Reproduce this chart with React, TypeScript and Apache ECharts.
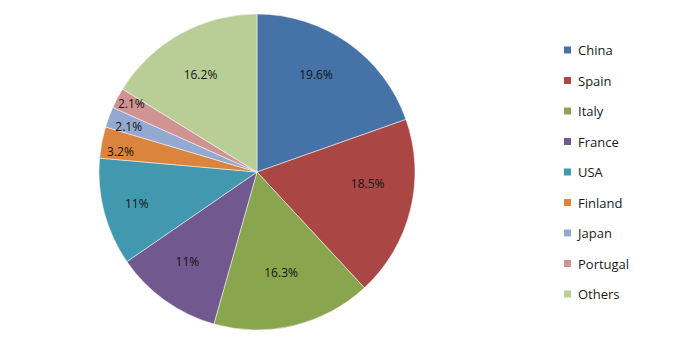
import React, { useEffect, useRef } from "react";
import * as echarts from "echarts";

const categories = ["China", "Spain", "Italy", "France", "USA", "Finland", "Japan", "Portugal", "Others"];
const values = [19.6, 18.5, 16.3, 11, 11, 3.2, 2.1, 2.1, 16.2];
const labels = ["19.6%", "18.5%", "16.3%", "11%", "11%", "3.2%", "2.1%", "2.1%", "16.2%"];
const smallSlices = ["Finland", "Japan", "Portugal"];
const colors = ["#4572A7", "#AA4643", "#89A54E", "#71588F", "#4198AF", "#DB843D", "#93A9CF", "#D19392", "#B9CD96"];

// small label nudges (px) to mimic the original label placement
const labelNudge: Record<string, [number, number]> = {
  China: [-8, -3],
  Spain: [-2, -16],
  Italy: [-3, -12],
  France: [-2, -5],
  USA: [-8, 2],
  Finland: [1, 6],
  Japan: [3, 3],
  Portugal: [-2, -3],
  Others: [0, 4],
};

export default function App() {
  const ref = useRef<HTMLDivElement>(null);
  useEffect(() => {
    if (!ref.current) return;
    const chart = echarts.init(ref.current, null, { renderer: "svg" });
    const cx = 257;
    const cy = 172;
    const R = 158;
    const baseData = categories.map((name, i) => ({ name, value: values[i] }));
    const labelData = (small: boolean) =>
      categories.map((name, i) => {
        const isSmall = smallSlices.includes(name);
        return {
          name,
          value: values[i],
          label: { show: isSmall === small, formatter: labels[i] },
        };
      });
    const labelStyle = {
      position: "inside",
      color: "#141414",
      fontFamily: "Open Sans",
      fontSize: 12,
    };
    const layout = (p: any) => {
      const n = labelNudge[categories[p.dataIndex]] || [0, 0];
      return { dx: n[0], dy: n[1] };
    };
    chart.setOption({
      animation: false,
      color: colors,
      legend: {
        orient: "vertical",
        left: 557,
        top: 37,
        itemWidth: 9,
        itemHeight: 9,
        itemGap: 14.5,
        icon: "rect",
        data: categories,
        selectedMode: false,
        textStyle: { fontFamily: "Open Sans", fontSize: 13, color: "#1a1a1a", lineHeight: 16, padding: [0, 0, 0, 1] },
      },
      series: [
        {
          type: "pie",
          center: [cx, cy],
          radius: [0, R],
          startAngle: 90,
          clockwise: true,
          data: baseData,
          label: { show: false },
          labelLine: { show: false },
          itemStyle: { borderColor: "#ffffff", borderWidth: 0.5 },
          emphasis: { disabled: true },
        },
        {
          type: "pie",
          center: [cx, cy],
          radius: [0, 226],
          startAngle: 90,
          silent: true,
          data: labelData(false),
          itemStyle: { color: "rgba(0,0,0,0)" },
          label: labelStyle,
          labelLine: { show: false },
          labelLayout: layout,
          emphasis: { disabled: true },
        },
        {
          type: "pie",
          center: [cx, cy],
          radius: [0, 274],
          startAngle: 90,
          silent: true,
          data: labelData(true),
          itemStyle: { color: "rgba(0,0,0,0)" },
          label: labelStyle,
          labelLine: { show: false },
          labelLayout: layout,
          emphasis: { disabled: true },
        },
      ],
    });
    return () => chart.dispose();
  }, []);
  return (
    <div
      ref={ref}
      style={{ position: "fixed", left: 0, top: 0, width: 673, height: 349, background: "#ffffff" }}
    />
  );
}
